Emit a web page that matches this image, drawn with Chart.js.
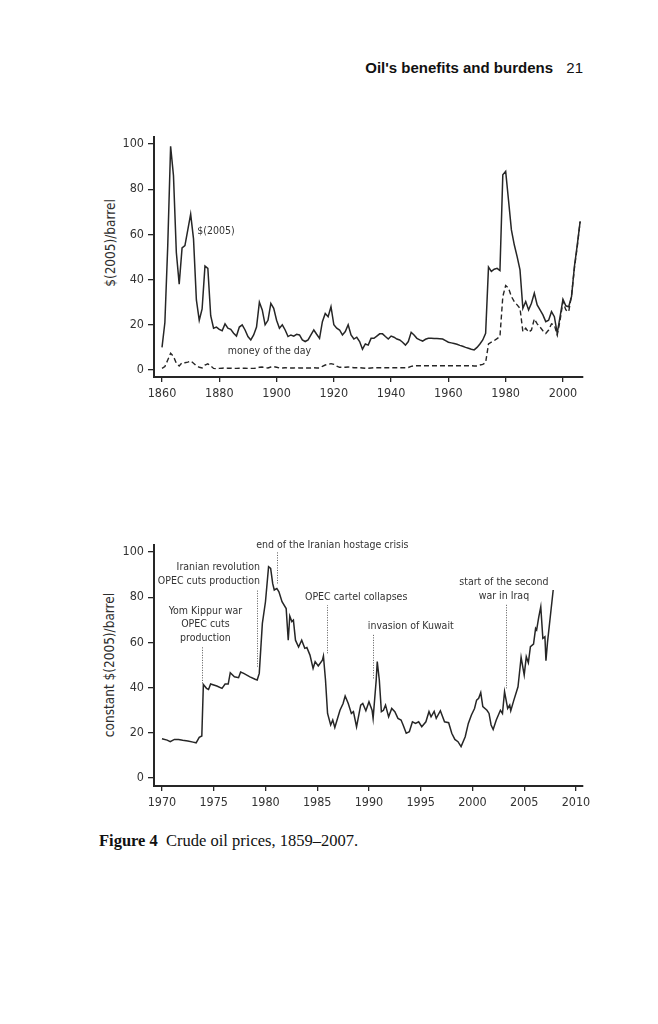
<!DOCTYPE html>
<html>
<head>
<meta charset="utf-8">
<title>Crude oil prices, 1859-2007</title>
<script src="https://cdn.jsdelivr.net/npm/chart.js@4.4.0/dist/chart.umd.min.js"></script>
<style>
  body { margin: 0; background: #fff; }
  .page { position: relative; width: 658px; height: 1024px; overflow: hidden; background: #fff; }
  .runhead { position: absolute; top: 59px; font: bold 15px "Liberation Sans", Arial, sans-serif; line-height: 18px; color: #111; white-space: nowrap; }
  .folio { font-weight: normal; }
  .ytitle { position: absolute; transform: translate(-50%, -50%) rotate(-90deg); font: 13.5px "DejaVu Sans Condensed", "DejaVu Sans", sans-serif; color: #2e2e2e; white-space: nowrap; }
  .plot { position: absolute; left: 90px; width: 510px; height: 300px; }
  .caption { position: absolute; left: 99px; top: 832px; font: 16.5px "Liberation Serif", serif; line-height: 18px; color: #111; white-space: nowrap; }
</style>
</head>
<body>
<div class="page">
  <div class="runhead" style="right: 105px;">Oil's benefits and burdens</div>
  <div class="runhead folio" style="right: 75px;">21</div>

  <div class="ytitle" style="left: 110px; top: 243px;">$(2005)/barrel</div>
  <div class="plot" style="top: 120px;"><canvas id="longRun" width="510" height="300"></canvas></div>

  <div class="ytitle" style="left: 109px; top: 665px;">constant $(2005)/barrel</div>
  <div class="plot" style="top: 530px;"><canvas id="recent" width="510" height="300"></canvas></div>

  <div class="caption"><b>Figure 4</b>&nbsp; Crude oil prices, 1859–2007.</div>
</div>

<script>
// Annual prices 1860-2006
const firstYear = 1860;
const real2005 = [
  10, 21, 55, 99, 86, 52, 38, 54, 55, 62,            // 1860s
  69, 58, 31, 22, 27, 46, 45, 24, 18.5, 19,          // 1870s
  18, 17.4, 20.4, 18.5, 18, 16.3, 15, 19, 20, 17.7,  // 1880s
  14.8, 13.3, 15.5, 19, 30, 26.6, 20, 22, 29.5, 27.3, // 1890s
  22, 18.5, 20, 17.7, 14.8, 15.5, 15, 15.8, 15.5, 13.3, // 1900s
  12.6, 13.3, 15.5, 17.7, 15.8, 14, 21.4, 25, 23.6, 28, // 1910s
  20, 18.5, 17.7, 15.5, 17, 20, 15.5, 13.7, 14.5, 12.6, // 1920s
  9.2, 11.5, 11, 14, 14, 15, 16, 16, 14.8, 13.7,     // 1930s
  15, 14.5, 13.7, 13.3, 12.3, 11, 12.6, 16.7, 15.5, 14, // 1940s
  13.3, 12.8, 13.6, 14, 14, 13.9, 13.9, 13.8, 13.7, 13, // 1950s
  12.3, 12, 11.7, 11.4, 10.9, 10.5, 10, 9.6, 9.2, 8.9, // 1960s
  10, 11.5, 13.3, 16.2, 45.5, 43.6, 44.6, 45, 44, 86.4, // 1970s
  87.9, 75, 62, 55.4, 50.2, 44.3, 27.3, 30.3, 26.6, 29.5, // 1980s
  34, 28.8, 26.6, 24.4, 21.4, 22, 25.8, 23.6, 16.2, 23.6, // 1990s
  31.3, 28.4, 28, 32.5, 45.8, 55.4, 65.7              // 2000s
];
const moneyOfDay = [
  0.7, 1.5, 4.4, 7.4, 6, 3, 1.8, 3.2, 3.2, 3.5,
  4, 3, 1.8, 1.2, 0.9, 2.2, 2.7, 1.8, 0.7, 0.6,
  0.7, 0.8, 0.9, 0.8, 0.8, 0.7, 0.7, 0.8, 0.8, 0.8,
  0.7, 0.7, 0.7, 0.8, 1.2, 1.3, 1, 0.9, 1.3, 1.5,
  1.2, 0.9, 0.9, 1, 0.9, 0.9, 0.9, 1, 0.9, 0.9,
  0.9, 0.9, 0.9, 1, 0.9, 0.9, 1.6, 2.2, 2.5, 2.8,
  2.5, 1.7, 1.2, 1.2, 1.2, 1.3, 1.2, 1, 1, 1,
  0.9, 0.8, 0.8, 0.9, 1, 1, 1, 1, 1, 1,
  1, 1, 1, 1, 1, 1, 1.1, 1.6, 1.9, 1.9,
  1.9, 1.9, 1.9, 1.9, 1.9, 1.9, 1.9, 1.9, 1.9, 1.9,
  1.9, 1.9, 1.9, 1.9, 1.9, 1.9, 1.9, 1.9, 1.9, 1.8,
  1.8, 2.2, 2.5, 3.3, 11.5, 12.3, 13, 13.9, 14.8, 32.5,
  37.4, 36.2, 32.5, 30.3, 28.8, 27.3, 17, 18.5, 16.7, 17.7,
  22.6, 20.4, 19, 17.4, 16.2, 17.7, 20.4, 19.9, 15.5, 22,
  30.3, 26.6, 25.8, 33, 45, 54.6, 65.7
];
const years = real2005.map((_, i) => firstYear + i);
const longRunXTicks = [1860, 1880, 1900, 1920, 1940, 1960, 1980, 2000];

// Lower panel, 1970-2007 (fractional years)
const recentDates = [
  1970.0, 1970.5, 1970.8, 1971.2, 1971.6, 1972.0, 1972.5, 1973.0, 1973.3, 1973.6,
  1973.85, 1974.0, 1974.3, 1974.5, 1974.7, 1975.3, 1975.8, 1976.1, 1976.4, 1976.6,
  1977.0, 1977.4, 1977.6, 1977.9, 1978.5, 1979.0, 1979.2, 1979.4, 1979.7, 1980.0,
  1980.3, 1980.5, 1980.7, 1980.85, 1981.1, 1981.3, 1981.6, 1982.0, 1982.2, 1982.35,
  1982.55, 1982.7, 1982.9, 1983.2, 1983.5, 1983.8, 1984.0, 1984.3, 1984.6, 1984.8,
  1985.1, 1985.5, 1985.6, 1985.8, 1986.0, 1986.3, 1986.5, 1986.7, 1987.2, 1987.5,
  1987.7, 1988.0, 1988.3, 1988.5, 1988.8, 1989.2, 1989.4, 1989.7, 1990.0, 1990.3,
  1990.4, 1990.7, 1990.8, 1991.0, 1991.2, 1991.4, 1991.6, 1991.9, 1992.2, 1992.5,
  1992.8, 1993.1, 1993.3, 1993.6, 1993.9, 1994.2, 1994.5, 1994.8, 1995.1, 1995.5,
  1995.8, 1996.0, 1996.3, 1996.5, 1996.9, 1997.3, 1997.7, 1998.0, 1998.3, 1998.6,
  1998.9, 1999.3, 1999.6, 1999.9, 2000.2, 2000.4, 2000.6, 2000.8, 2001.0, 2001.4,
  2001.6, 2001.8, 2002.0, 2002.3, 2002.7, 2002.9, 2003.1, 2003.4, 2003.6, 2003.7,
  2004.0, 2004.4, 2004.7, 2005.0, 2005.2, 2005.4, 2005.6, 2005.9, 2006.1, 2006.2,
  2006.4, 2006.6, 2006.8, 2007.0, 2007.1, 2007.25, 2007.8
];
const recentPrices = [
  17.4, 16.8, 16.1, 17.1, 17.1, 16.7, 16.4, 15.9, 15.6, 18.0,
  18.6, 41.4, 39.7, 39.2, 41.6, 40.7, 39.7, 41.6, 41.6, 46.6,
  44.8, 44.4, 46.9, 46.3, 44.8, 43.7, 43.4, 46.3, 68.4, 78,
  93.5, 92.8, 86, 83.2, 83.9, 82.4, 78, 75, 61, 71.7,
  69.2, 69.9, 61, 58, 61, 57.4, 57.8, 54.4, 48.5, 51.5,
  49.6, 52.2, 54, 43.4, 28.6, 23.5, 25.7, 22.4, 30, 33,
  36.3, 33, 28.6, 29.4, 22.7, 32.3, 33, 29.8, 33.8, 30,
  26.4, 43.4, 51.5, 43.4, 29.4, 30, 32.3, 27.1, 30.8, 29.4,
  26.4, 25.7, 23.5, 19.8, 20.5, 24.9, 24.2, 24.9, 22.7, 24.9,
  29.4, 27.1, 29.5, 26.4, 29.8, 24.9, 24.5, 19.8, 17.1, 16.1,
  13.9, 18.3, 24.2, 27.9, 30.8, 34.5, 35.3, 37.8, 31.6, 30,
  28.6, 23.5, 21.5, 25.7, 30, 28.6, 38.2, 30.8, 32.3, 29.8,
  34.5, 40.4, 53.4, 45.6, 53.7, 51, 58.1, 59.3, 66.2, 65.5,
  71.1, 75.8, 61.8, 62.5, 51.9, 60, 83.2
];
const recentXTicks = [1970, 1975, 1980, 1985, 1990, 1995, 2000, 2005, 2010];
const priceTicks = [0, 20, 40, 60, 80, 100];

const ink = '#262626';
const labelInk = '#333';
const tickFont = { family: '"DejaVu Sans Condensed", "DejaVu Sans", sans-serif', size: 12.5 };
const noteFont = '10.5px "DejaVu Sans Condensed", "DejaVu Sans", sans-serif';

function fixedTicks(values) {
  return axis => { axis.ticks = values.map(v => ({ value: v })); };
}

function buildScales(xMin, xMax, xTicks, yMin, yMax, xHeight) {
  return {
    x: {
      type: 'linear', min: xMin, max: xMax,
      afterBuildTicks: fixedTicks(xTicks),
      afterFit: s => { s.height = xHeight; },
      border: { display: true, color: ink, width: 2 },
      grid: { drawOnChartArea: false, drawTicks: true, tickLength: 5, color: ink, lineWidth: 1.3 },
      ticks: { autoSkip: false, maxRotation: 0, padding: 4, color: labelInk, font: tickFont, callback: v => String(v) }
    },
    y: {
      type: 'linear', min: yMin, max: yMax,
      afterBuildTicks: fixedTicks(priceTicks),
      afterFit: s => { s.width = 64; },
      border: { display: true, color: ink, width: 2 },
      grid: { drawOnChartArea: false, drawTicks: true, tickLength: 6, color: ink, lineWidth: 1.3 },
      ticks: { padding: 4, color: labelInk, font: tickFont, callback: v => String(v) }
    }
  };
}

// text labels and dotted event markers, placed in data units
const notesPlugin = {
  id: 'notes',
  afterDatasetsDraw(chart, args, opts) {
    const { ctx, scales: { x, y } } = chart;
    ctx.save();
    ctx.font = noteFont;
    ctx.fillStyle = labelInk;
    ctx.textBaseline = 'middle';
    (opts.items || []).forEach(n => {
      if (n.lineAt !== undefined) {
        ctx.save();
        ctx.strokeStyle = '#555';
        ctx.lineWidth = 1;
        ctx.setLineDash([1, 1.5]);
        const px = Math.round(x.getPixelForValue(n.lineAt)) + 0.5;
        ctx.beginPath();
        ctx.moveTo(px, y.getPixelForValue(n.from));
        ctx.lineTo(px, y.getPixelForValue(n.to));
        ctx.stroke();
        ctx.restore();
      }
      ctx.textAlign = n.align || 'center';
      const tx = x.getPixelForValue(n.tx);
      const ty = y.getPixelForValue(n.ty);
      n.text.forEach((line, i) => ctx.fillText(line, tx, ty + i * 13.5));
    });
    ctx.restore();
  }
};

const lineStyle = { borderColor: ink, borderWidth: 1.5, pointRadius: 0, tension: 0, fill: false };

new Chart(document.getElementById('longRun'), {
  type: 'line',
  data: {
    datasets: [
      { ...lineStyle, label: '$(2005)', data: years.map((yr, i) => ({ x: yr, y: real2005[i] })) },
      { ...lineStyle, label: 'money of the day', borderDash: [5, 3], borderWidth: 1.4,
        data: years.map((yr, i) => ({ x: yr, y: moneyOfDay[i] })) }
    ]
  },
  options: {
    responsive: false,
    animation: false,
    layout: { padding: { top: 17, right: 17, left: 0, bottom: 0 } },
    scales: buildScales(1857.2, 2007, longRunXTicks, -3.1, 103.1, 43),
    plugins: {
      legend: { display: false },
      tooltip: { enabled: false },
      notes: { items: [
        { tx: 1872.3, ty: 61.5, align: 'left', text: ['$(2005)'] },
        { tx: 1897.5, ty: 8.4, text: ['money of the day'] }
      ] }
    }
  },
  plugins: [notesPlugin]
});

new Chart(document.getElementById('recent'), {
  type: 'line',
  data: {
    datasets: [
      { ...lineStyle, label: 'constant $(2005)', data: recentDates.map((d, i) => ({ x: d, y: recentPrices[i] })) }
    ]
  },
  options: {
    responsive: false,
    animation: false,
    layout: { padding: { top: 15, right: 17, left: 0, bottom: 0 } },
    scales: buildScales(1969.23, 2010.68, recentXTicks, -3.5, 103.1, 44),
    plugins: {
      legend: { display: false },
      tooltip: { enabled: false },
      notes: { items: [
        { lineAt: 1973.9, from: 41.9, to: 58.4, tx: 1974.2, ty: 74.0, text: ['Yom Kippur war', 'OPEC cuts', 'production'] },
        { lineAt: 1979.15, from: 49.3, to: 83.5, tx: 1979.47, ty: 93.2, align: 'right', text: ['Iranian revolution', 'OPEC cuts production'] },
        { lineAt: 1981.1, from: 86.1, to: 100.4, tx: 1986.46, ty: 102.8, text: ['end of the Iranian hostage crisis'] },
        { lineAt: 1985.9, from: 55.2, to: 76.5, tx: 1988.76, ty: 80.2, text: ['OPEC cartel collapses'] },
        { lineAt: 1990.4, from: 44.1, to: 64, tx: 1994.04, ty: 67.3, text: ['invasion of Kuwait'] },
        { lineAt: 2003.24, from: 39.7, to: 77.3, tx: 2003.04, ty: 86.6, text: ['start of the second', 'war in Iraq'] }
      ] }
    }
  },
  plugins: [notesPlugin]
});
</script>
</body>
</html>
